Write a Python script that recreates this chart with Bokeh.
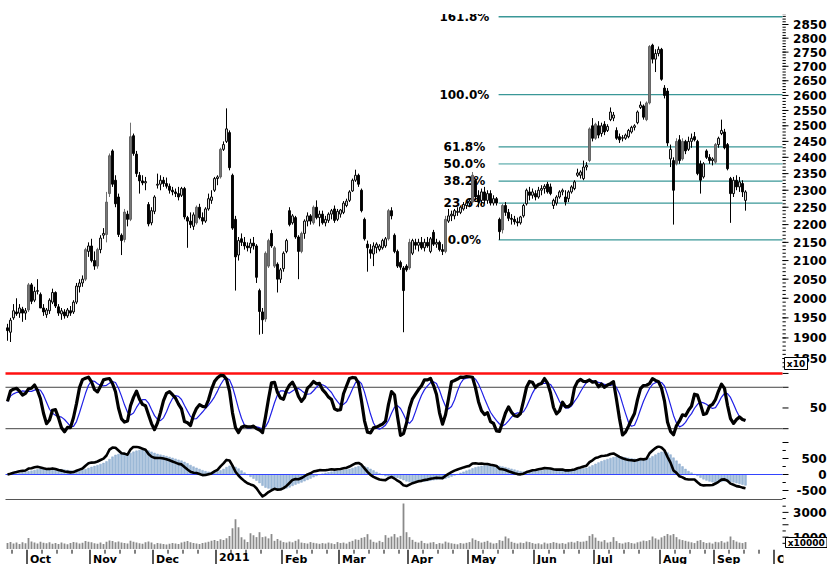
import numpy as np
from bokeh.plotting import figure
from bokeh.models import Range1d
from bokeh.layouts import column
from bokeh.embed import file_html
from bokeh.resources import INLINE
from bokeh.core.properties import value

# ---------------- data (price units x10, volume units x10000) ----------------
opens = [1925,1914,1950,1965,1962,1972,1962,1970,2035,1995,
         2018,2010,1975,1958,1968,1990,2015,1978,1960,1965,
         1955,1968,1965,1990,2030,2040,2050,2125,2140,2100,
         2085,2130,2170,2172,2290,2420,2330,2280,2170,2158,
         2230,2215,2468,2410,2345,2328,2322,2258,2205,2238,
         2315,2318,2330,2320,2312,2300,2295,2290,2285,2305,
         2220,2210,2195,2205,2250,2220,2210,2245,2270,2300,
         2335,2340,2425,2450,2478,2345,2215,2115,2160,2150,
         2140,2135,2148,2140,2020,1965,1947,2085,2175,2085,
         2090,2050,2078,2125,2240,2205,2220,2165,2125,2175,
         2210,2225,2205,2250,2220,2230,2205,2212,2230,2245,
         2215,2230,2235,2255,2270,2298,2330,2345,2300,2215,
         2145,2130,2118,2135,2130,2135,2140,2160,2240,2170,
         2125,2095,2080,2085,2080,2120,2150,2142,2150,2135,
         2150,2125,2178,2145,2150,2130,2125,2210,2225,2225,
         2235,2235,2245,2255,2262,2265,2330,2285,2270,2295,
         2270,2290,2262,2275,2215,2185,2255,2235,2218,2215,
         2208,2205,2225,2260,2295,2285,2290,2280,2300,2305,
         2318,2310,2255,2262,2280,2295,2280,2275,2295,2305,
         2345,2345,2335,2370,2390,2500,2460,2500,2475,2505,
         2485,2520,2525,2485,2465,2460,2460,2465,2480,2495,
         2510,2560,2565,2520,2575,2775,2725,2745,2760,2625,
         2615,2395,2390,2380,2455,2395,2450,2425,2450,2465,
         2450,2380,2340,2420,2400,2390,2385,2440,2475,2480,
         2440,2335,2290,2330,2310,2320,2270]
highs = [1935,1950,1985,2000,1985,1978,1975,2040,2040,2030,
         2050,2015,1985,1975,2000,2025,2018,1985,1975,1972,
         1975,1980,1995,2040,2050,2060,2135,2150,2160,2125,
         2135,2170,2190,2295,2412,2425,2345,2290,2175,2245,
         2240,2510,2475,2420,2355,2345,2340,2265,2250,2285,
         2350,2345,2340,2338,2320,2310,2305,2310,2310,2310,
         2225,2235,2235,2255,2260,2235,2250,2290,2300,2340,
         2345,2430,2450,2557,2485,2350,2225,2165,2175,2165,
         2150,2160,2165,2145,2025,1975,2125,2160,2185,2140,
         2095,2080,2125,2160,2250,2230,2225,2170,2180,2215,
         2235,2230,2255,2270,2240,2240,2225,2235,2245,2255,
         2245,2245,2268,2275,2300,2335,2362,2350,2305,2220,
         2155,2145,2150,2150,2145,2160,2165,2245,2250,2175,
         2130,2100,2085,2090,2160,2160,2160,2160,2165,2160,
         2165,2165,2185,2160,2155,2145,2225,2245,2240,2245,
         2250,2255,2265,2270,2275,2355,2335,2300,2305,2310,
         2300,2300,2285,2280,2220,2260,2265,2245,2230,2225,
         2220,2225,2260,2305,2310,2305,2300,2310,2315,2318,
         2325,2320,2275,2285,2300,2305,2300,2300,2315,2330,
         2365,2360,2390,2385,2495,2525,2510,2515,2510,2515,
         2505,2560,2545,2495,2475,2470,2475,2490,2500,2505,
         2550,2580,2570,2580,2775,2780,2760,2770,2765,2635,
         2625,2440,2400,2460,2470,2460,2455,2465,2475,2480,
         2455,2390,2385,2425,2410,2400,2445,2465,2520,2490,
         2445,2340,2340,2345,2340,2330,2300]
lows = [1893,1890,1945,1955,1950,1940,1945,1965,1985,1990,
        2010,1985,1955,1950,1960,1985,1975,1955,1945,1948,
        1950,1955,1960,1985,2015,2030,2045,2110,2095,2075,
        2078,2120,2160,2150,2280,2310,2250,2165,2115,2150,
        2195,2210,2405,2340,2290,2315,2300,2195,2198,2230,
        2305,2300,2310,2305,2290,2285,2280,2270,2280,2215,
        2135,2190,2185,2200,2215,2200,2205,2240,2260,2295,
        2315,2335,2420,2445,2360,2185,2020,2100,2140,2130,
        2125,2120,2130,2040,1908,1910,1940,2080,2135,2080,
        2015,2040,2070,2120,2195,2200,2160,2050,2120,2160,
        2195,2200,2200,2215,2195,2200,2195,2205,2215,2205,
        2210,2220,2230,2250,2265,2295,2325,2310,2235,2155,
        2070,2105,2085,2120,2125,2130,2135,2155,2215,2120,
        2080,2075,1914,2070,2075,2115,2130,2125,2130,2125,
        2135,2120,2140,2135,2125,2115,2120,2205,2210,2215,
        2225,2230,2240,2245,2250,2260,2270,2250,2255,2260,
        2260,2255,2255,2255,2157,2175,2225,2210,2200,2200,
        2195,2200,2220,2255,2270,2275,2270,2275,2285,2290,
        2290,2285,2245,2255,2275,2285,2255,2265,2290,2300,
        2340,2335,2330,2360,2385,2450,2455,2460,2465,2470,
        2480,2515,2515,2455,2445,2450,2455,2460,2475,2485,
        2505,2555,2520,2515,2570,2710,2680,2735,2650,2590,
        2435,2370,2200,2375,2380,2390,2410,2420,2430,2450,
        2345,2290,2335,2395,2380,2375,2380,2430,2470,2425,
        2360,2205,2280,2300,2295,2280,2240]
closes = [1918,1944,1968,1960,1975,1962,1968,2035,1992,2018,
          2020,1975,1965,1970,1995,2015,1980,1962,1968,1955,
          1970,1962,1990,2032,2040,2050,2130,2140,2100,2085,
          2130,2162,2175,2265,2405,2318,2260,2172,2155,2236,
          2215,2465,2412,2350,2328,2322,2326,2202,2240,2280,
          2318,2330,2320,2312,2300,2295,2290,2280,2305,2222,
          2210,2200,2228,2250,2220,2210,2245,2275,2280,2335,
          2340,2425,2440,2490,2368,2190,2110,2155,2150,2140,
          2135,2148,2140,2055,1966,1945,2120,2155,2140,2135,
          2050,2075,2120,2155,2200,2225,2165,2125,2175,2210,
          2225,2210,2250,2220,2230,2205,2215,2230,2240,2212,
          2238,2242,2262,2268,2295,2330,2345,2318,2240,2160,
          2135,2120,2140,2145,2140,2155,2160,2240,2225,2125,
          2085,2082,2020,2075,2150,2155,2142,2150,2135,2150,
          2140,2160,2145,2150,2130,2125,2215,2225,2230,2240,
          2238,2250,2258,2262,2268,2345,2280,2265,2295,2270,
          2290,2262,2275,2262,2180,2255,2235,2218,2215,2208,
          2205,2222,2255,2300,2285,2295,2280,2300,2305,2312,
          2295,2290,2270,2280,2295,2300,2265,2295,2310,2325,
          2352,2355,2370,2375,2490,2460,2505,2470,2500,2480,
          2498,2545,2535,2460,2455,2462,2470,2485,2495,2500,
          2545,2568,2528,2575,2770,2725,2745,2760,2655,2600,
          2445,2425,2300,2450,2390,2450,2420,2450,2460,2455,
          2350,2330,2380,2400,2390,2395,2440,2460,2485,2430,
          2365,2290,2330,2310,2325,2295,2295]
volume = [520,610,480,560,450,590,500,
          920,640,560,480,620,540,500,
          580,470,520,440,560,490,430,
          520,610,560,480,540,690,620,
          580,510,470,560,450,620,720,
          680,590,640,560,520,480,700,
          620,560,510,470,590,640,560,
          430,520,480,450,400,470,520,
          480,440,560,620,680,590,520,
          480,450,520,560,620,700,760,
          680,820,760,900,1100,1720,2440,1800,1000,800,600,
          1320,1160,1000,1400,1000,1050,900,1250,700,850,
          720,600,560,640,580,700,820,
          560,520,480,600,540,500,460,
          520,480,560,500,440,600,520,
          560,480,620,700,820,780,940,
          1000,1240,800,620,560,700,600,
          1160,950,1050,1250,980,1100,3720,
          1400,1000,780,620,560,700,520,
          480,560,600,440,520,480,640,
          560,500,460,420,520,480,540,
          600,900,780,680,560,620,700,
          560,480,520,760,700,1050,900,
          620,540,480,560,520,640,600,
          520,460,500,420,560,480,520,
          600,540,480,520,460,580,620,
          560,680,620,640,700,1100,1240,
          960,700,640,760,560,620,1000,
          680,520,480,560,600,520,480,
          580,640,720,680,760,1050,900,
          800,980,1100,1250,1150,1250,1000,
          820,760,700,640,580,520,700,
          760,600,520,560,480,620,580,
          680,560,640,1050,760,640,560,
          520,600]

month_labels = ["Oct", "Nov", "Dec", "2011", "Feb", "Mar", "Apr", "May",
                "Jun", "Jul", "Aug", "Sep", "Oct"]
month_ticks = [6.5, 27.5, 48.5, 69.5, 91.5, 110.5, 133.5, 153.5,
               175.5, 195.5, 217.5, 235.5, 255.5]

fib_low = 2157
fib_high = 2603
fib_start = 164
fib_ratios = [0.0, 0.236, 0.382, 0.5, 0.618, 1.0, 1.618]
fib_texts = ["0.0%", "23.6%", "38.2%", "50.0%", "61.8%", "100.0%", "161.8%"]

price_ticks = list(range(1850, 2851, 50))
price_labels = [str(t) for t in price_ticks]
stoch_ticks = [0, 20, 50, 80, 100]
stoch_label_vals = [50]
stoch_labels = ["50"]
macd_ticks = [-500, 0, 500]
macd_labels = ["-500", "0", "500"]
vol_ticks = [1000, 2000, 3000]
vol_label_vals = [1000, 3000]
vol_labels = ["1000", "3000"]
price_unit = "x10"
vol_unit = "x10000"

# ---------------- derived ----------------
n = min(len(opens), len(highs), len(lows), len(closes), len(volume))
o = np.array(opens[:n], float)
c = np.array(closes[:n], float)
h = np.maximum(np.array(highs[:n], float), np.maximum(o, c))
l = np.minimum(np.array(lows[:n], float), np.minimum(o, c))
v = np.array(volume[:n], float)
idx = np.arange(n)

up = c >= o
big = (c - o) >= 45
body_fill = np.where(~up, "black", np.where(big, "#7c7c7c", "white")).tolist()
body_line = np.where(up & big, "#5e5e5e", "black").tolist()
wick_col = np.where(up & big, "#707070", "black").tolist()

def sma(x, k):
    x = np.asarray(x, float)
    out = np.empty_like(x)
    for i in range(len(x)):
        out[i] = x[max(0, i - k + 1):i + 1].mean()
    return out

def ema(x, k):
    a = 2.0 / (k + 1)
    out = np.empty_like(x)
    out[0] = x[0]
    for i in range(1, len(x)):
        out[i] = a * x[i] + (1 - a) * out[i - 1]
    return out

kn = 9
raw = np.empty(n)
for i in range(n):
    lo = l[max(0, i - kn + 1):i + 1].min()
    hi = h[max(0, i - kn + 1):i + 1].max()
    raw[i] = 100.0 * (c[i] - lo) / (hi - lo) if hi > lo else 50.0
stoch_k = sma(raw, 3)
stoch_d = sma(stoch_k, 5)

c10 = c * 10
macd = ema(c10, 12) - ema(c10, 26)
signal = ema(macd, 9)

# ---------------- layout ----------------
FONT = "DejaVu Sans"
W = 827
PX = 3.0                     # pixels per bar
S = -7.0 / PX                # x value at the left canvas edge
XR = Range1d(S, S + W / PX)  # shared range, every panel spans the full width
L = S + 5.0 / PX             # left edge of the plotting area
E = S + 782.0 / PX           # right edge of the plotting area
LX = S + 826.0 / PX          # right edge of the axis labels
XEND = S + W / PX

def panel(hgt, yr, top=0, log=False):
    p = figure(width=W, height=hgt, x_range=XR, y_range=yr,
               y_axis_type="log" if log else "linear",
               x_axis_location=None, y_axis_location=None,
               output_backend="svg", toolbar_location=None,
               min_border_left=0, min_border_right=0,
               min_border_top=top, min_border_bottom=0)
    p.outline_line_color = None
    p.xgrid.visible = False
    p.ygrid.visible = False
    p.background_fill_color = "white"
    p.border_fill_color = "white"
    return p

def axis(p, ticks, minor, label_vals, labels):
    if minor:
        p.segment(x0=[E] * len(minor), y0=minor, x1=[E + 1.1] * len(minor), y1=minor,
                  line_color="black", line_width=1)
    p.segment(x0=[E] * len(ticks), y0=ticks, x1=[E + 2.0] * len(ticks), y1=ticks,
              line_color="black", line_width=1)
    p.text(x=[LX] * len(labels), y=label_vals, text=labels,
           text_font=value(FONT), text_font_size=value("12px"), text_font_style="bold",
           text_color="black", text_align="right", text_baseline="middle")

def unit_box(p, x0, x1, ytop, ybot, ymid, txt):
    p.quad(left=[x0], right=[x1], top=[ytop], bottom=[ybot],
           fill_color="white", line_color="black", line_width=1)
    p.text(x=[(x0 + x1) / 2], y=[ymid], text=[txt],
           text_font=value(FONT), text_font_size=value("9px"), text_font_style="bold",
           text_color="black", text_align="center", text_baseline="middle")

def price_at(y):  # price value for a vertical pixel position of the price panel
    return 2850 * np.exp(-(y - 24) / 773.0)

# price panel (pixels 0..370; the plotting area starts at pixel 13)
pp = panel(370, Range1d(price_at(370), price_at(0)), log=True)
axis(pp, price_ticks, list(range(1830, 2891, 10)), price_ticks, price_labels)

fib_levels = [fib_low + r * (fib_high - fib_low) for r in fib_ratios]
fib_cols = ["#8fc6c6" if r == 0.5 else "#3a9797" for r in fib_ratios]
fib_w = [1.8 if r == 0.5 else 1.3 for r in fib_ratios]
pp.segment(x0=[fib_start - 0.3] * len(fib_levels), y0=fib_levels,
           x1=[E] * len(fib_levels), y1=fib_levels,
           line_color=fib_cols, line_width=fib_w)
pp.text(x=[152.3] * len(fib_levels), y=fib_levels, text=fib_texts,
        text_font=value(FONT), text_font_size=value("12px"),
        text_font_style="bold", text_color="black",
        text_align="center", text_baseline="middle")
# blank band above the plotting area (cuts the top of the 161.8% label)
pp.quad(left=[S - 1], right=[XEND + 1], top=[price_at(-2)], bottom=[price_at(13.5)],
        fill_color="white", line_color=None)

pp.segment(x0=idx, y0=h, x1=idx, y1=l, line_color=wick_col, line_width=1)
pp.vbar(x=idx, width=0.62, top=np.maximum(o, c), bottom=np.minimum(o, c),
        fill_color=body_fill, line_color=body_line, line_width=1)
unit_box(pp, S + 784 / PX, S + 807 / PX, price_at(357), price_at(369), price_at(363.5), price_unit)

# stochastic panel (pixels 370..445): value v at y = 442 - 0.69 v
ps = panel(75, Range1d(-4.35, 104.3))
axis(ps, stoch_ticks, [], stoch_label_vals, stoch_labels)
ps.segment(x0=[L], y0=[100], x1=[E], y1=[100], line_color="#ff1010", line_width=2.5)
ps.segment(x0=[L, L], y0=[80, 20], x1=[E, E], y1=[80, 20], line_color="#444444", line_width=1)
ps.line(idx, stoch_d, line_color="#1f1fe6", line_width=1.2)
ps.line(idx, stoch_k, line_color="black", line_width=3.2, line_join="round")

# MACD panel (pixels 445..500)
pm = panel(55, Range1d(-812, 906))
axis(pm, macd_ticks, [-750, -250, 250, 750], macd_ticks, macd_labels)
pm.vbar(x=idx, width=0.6, top=signal, bottom=0, fill_color="#9fbad8",
        line_color="#86a6cc", line_width=0.5)
pm.segment(x0=[L], y0=[0], x1=[E], y1=[0], line_color="#3344ff", line_width=1)
pm.segment(x0=[L], y0=[-785], x1=[E], y1=[-785], line_color="#555555", line_width=1.3)
pm.line(idx, macd, line_color="black", line_width=2.6, line_join="round")

# volume panel (pixels 500..549)
pv = panel(49, Range1d(0, 3960))
axis(pv, vol_ticks, [500, 1500, 2500, 3500], vol_label_vals, vol_labels)
pv.vbar(x=idx, width=0.6, top=v, bottom=0, fill_color="#8a8a8a", line_color=None)
vy = lambda y: (549 - y) * 3960 / 49.0
unit_box(pv, S + 785 / PX, S + 826.5 / PX, vy(537), vy(547), vy(542), vol_unit)

# date axis strip (pixels 549..564); labels are cut at the plotting area's right edge
pa = panel(15, Range1d(0, 1))
minor_x = []
for a, b in zip([month_ticks[0] - 10] + month_ticks, month_ticks + [month_ticks[-1] + 10]):
    t = a + 5
    while t < b - 2:
        minor_x.append(t)
        t += 5
pa.segment(x0=minor_x, y0=[1] * len(minor_x), x1=minor_x, y1=[0.72] * len(minor_x),
           line_color="black", line_width=1)
pa.segment(x0=month_ticks, y0=[1] * len(month_ticks), x1=month_ticks,
           y1=[0] * len(month_ticks), line_color="black", line_width=1.3)
pa.text(x=[t + 1.0 for t in month_ticks], y=[0.8] * len(month_ticks), text=month_labels,
        text_font=value(FONT), text_font_size=value("11px"), text_font_style="bold",
        text_color="black", text_align="left", text_baseline="top")
pa.quad(left=[E + 0.3], right=[XEND + 1], top=[1.2], bottom=[-0.2],
        fill_color="white", line_color=None)

layout = column(pp, ps, pm, pv, pa, spacing=0)
open("out.html", "w").write(file_html(layout, INLINE))
